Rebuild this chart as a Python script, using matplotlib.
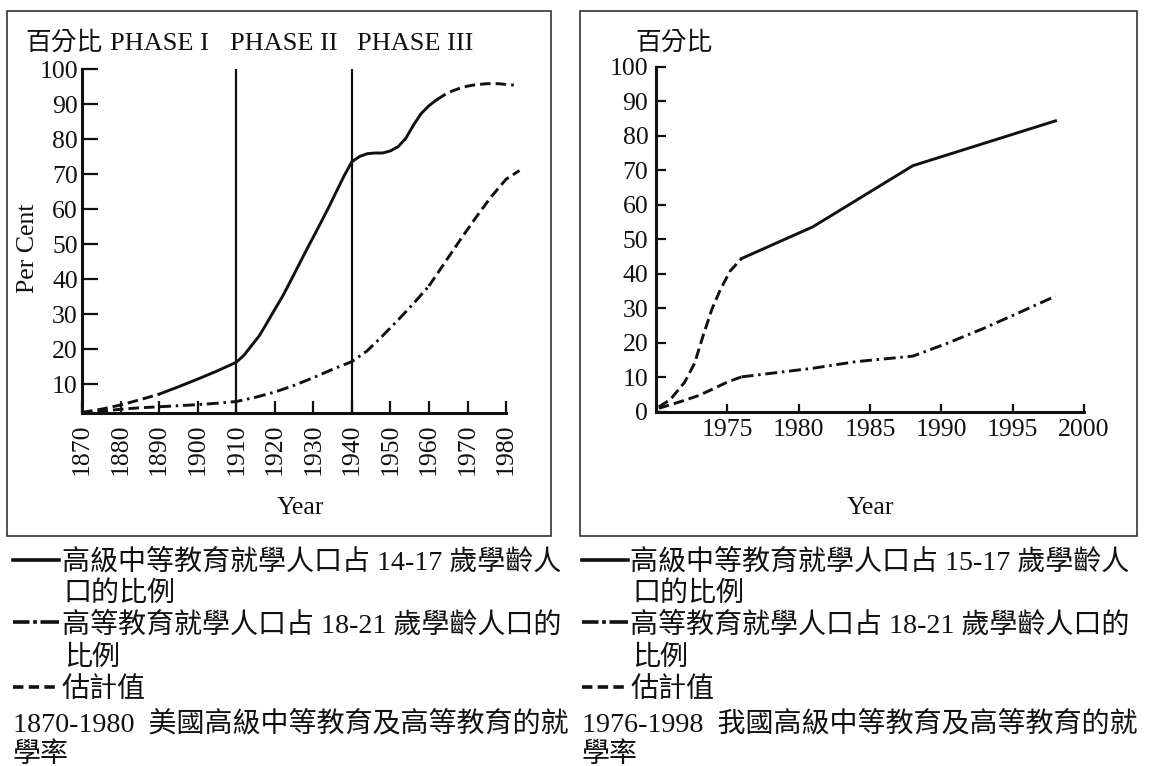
import matplotlib
matplotlib.use("Agg")
import matplotlib.pyplot as plt
from matplotlib.patches import Rectangle
from matplotlib.lines import Line2D

plt.rcParams['lines.scale_dashes'] = False

SERIF = 'Liberation Serif'
MIX = ['Liberation Serif', 'Noto Sans CJK TC']
CJK = ['Noto Sans CJK TC', 'DejaVu Sans']

# ---------------- data: USA 1870-1980 ----------------
us_hs_est1_x = [1870, 1875, 1880, 1885, 1890]
us_hs_est1_y = [1.9, 2.8, 4.0, 5.5, 7.1]
us_hs_x = [1890, 1895, 1900, 1905, 1910, 1912, 1914, 1916, 1918, 1920, 1922, 1924, 1926,
           1928, 1930, 1932, 1934, 1936, 1938, 1940, 1942, 1944, 1946, 1948, 1950, 1952,
           1954, 1956, 1958, 1960, 1962]
us_hs_y = [7.1, 9.2, 11.4, 13.7, 16.2, 18.2, 21.0, 23.8, 27.5, 31.3, 35.0, 39.2, 43.5,
           47.8, 52.0, 56.2, 60.5, 65.0, 69.5, 73.5, 75.0, 75.8, 76.0, 76.0, 76.6, 77.8,
           80.2, 84.0, 87.3, 89.5, 91.2]
us_hs_est2_x = [1962, 1964, 1966, 1968, 1970, 1972, 1975, 1978, 1982]
us_hs_est2_y = [91.2, 92.6, 93.7, 94.5, 95.1, 95.5, 95.8, 95.8, 95.4]

us_he_est1_x = [1870, 1875, 1880, 1885, 1890]
us_he_est1_y = [1.7, 2.2, 2.8, 3.2, 3.5]
us_he_x = [1890, 1895, 1900, 1905, 1910, 1915, 1920, 1925, 1930, 1935, 1940, 1944, 1948,
           1952, 1956, 1960]
us_he_y = [3.5, 3.8, 4.1, 4.5, 5.0, 6.2, 7.7, 9.6, 11.8, 14.2, 16.4, 19.5, 23.8,
           28.3, 33.0, 38.0]
us_he_est2_x = [1960, 1964, 1968, 1972, 1976, 1980, 1983.5]
us_he_est2_y = [38.0, 44.5, 51.0, 57.3, 63.3, 68.5, 71.0]

phase_years = [1910, 1940]
left_xticks = list(range(1870, 1981, 10))
left_yticks = list(range(10, 101, 10))

# ---------------- data: Taiwan 1970-2000 ----------------
tw_hs_est_x = [1970.2, 1971, 1972, 1972.7, 1973.3, 1973.9, 1974.5, 1975.2, 1976]
tw_hs_est_y = [1.4, 3.5, 8.5, 14.0, 22.0, 29.5, 35.3, 40.8, 44.4]
tw_hs_x = [1976, 1981, 1988, 1998]
tw_hs_y = [44.4, 53.6, 71.3, 84.3]

tw_he_est_x = [1970.2, 1971, 1972, 1973, 1974, 1975, 1976]
tw_he_est_y = [1.0, 2.0, 3.3, 4.7, 6.6, 8.6, 10.1]
tw_he_x = [1976, 1978, 1981, 1984, 1988, 1990.4, 1993, 1995.6, 1998]
tw_he_y = [10.1, 11.1, 12.6, 14.5, 16.1, 19.8, 24.2, 29.0, 33.5]

right_xticks = [1975, 1980, 1985, 1990, 1995, 2000]
right_yticks = list(range(0, 101, 10))

W, H = 1152, 766
fig = plt.figure(figsize=(W / 100, H / 100), dpi=100)

def fx(px):
    return px / W

def fy(py):
    return 1 - py / H

DASH = (0, (7.6, 3.6))
DASHDOT = (0, (8.6, 3.4, 1.8, 3.4))
LW = 2.1
COL = '#111111'
LEG_FS = 20.2

def style_axes(ax, ylen, xlen, ypad, xpad):
    for s in ['top', 'right']:
        ax.spines[s].set_visible(False)
    for s in ['left', 'bottom']:
        ax.spines[s].set_linewidth(2.2)
        ax.spines[s].set_color(COL)
    ax.tick_params(axis='y', direction='in', length=ylen, width=1.6, pad=ypad,
                   labelsize=18.5, colors=COL)
    ax.tick_params(axis='x', direction='in', length=xlen, width=1.6, pad=xpad,
                   labelsize=18.5, colors=COL)
    for lab in ax.get_xticklabels() + ax.get_yticklabels():
        lab.set_fontfamily(SERIF)

# ---------- left axes ----------
ybot = 1.86
axL = fig.add_axes([fx(82), fy(412.5), fx(115 * 3.855), (412.5 - 69) / H])
axL.set_xlim(1870, 1985)
axL.set_ylim(ybot, 100)
axL.plot(us_hs_est1_x, us_hs_est1_y, color=COL, lw=LW, linestyle=DASH)
axL.plot(us_hs_x, us_hs_y, color=COL, lw=LW)
axL.plot(us_hs_est2_x, us_hs_est2_y, color=COL, lw=LW, linestyle=DASH)
axL.plot(us_he_est1_x, us_he_est1_y, color=COL, lw=LW, linestyle=DASH)
axL.plot(us_he_x, us_he_y, color=COL, lw=LW, linestyle=DASHDOT)
axL.plot(us_he_est2_x, us_he_est2_y, color=COL, lw=LW, linestyle=DASH)
axL.vlines(phase_years, ybot, 100, color=COL, lw=1.6)
axL.set_xticks(left_xticks)
axL.set_xticklabels([str(v) for v in left_xticks], rotation=90)
axL.set_yticks(left_yticks)
axL.set_yticklabels([str(v) for v in left_yticks])
axL.spines['bottom'].set_bounds(1870, 1980)
style_axes(axL, 11.5, 8.6, 3.0, 8.0)

# ---------- right axes ----------
axR = fig.add_axes([fx(656), fy(411.7), fx(428), (411.7 - 66.7) / H])
axR.set_xlim(1970, 2000)
axR.set_ylim(0, 100)
axR.plot(tw_hs_est_x, tw_hs_est_y, color=COL, lw=LW, linestyle=DASH)
axR.plot(tw_hs_x, tw_hs_y, color=COL, lw=LW)
axR.plot(tw_he_est_x, tw_he_est_y, color=COL, lw=LW, linestyle=DASH)
axR.plot(tw_he_x, tw_he_y, color=COL, lw=LW, linestyle=DASHDOT)
axR.set_xticks(right_xticks)
axR.set_xticklabels([str(v) for v in right_xticks])
axR.set_yticks(right_yticks)
axR.set_yticklabels([str(v) for v in right_yticks])
style_axes(axR, 7.2, 5.8, 5.5, 5.0)

# ---------- frames ----------
for (x0, x1) in [(7, 551), (580, 1137)]:
    fig.patches.append(Rectangle((fx(x0), fy(536)), fx(x1 - x0), (536 - 10.7) / H,
                                 transform=fig.transFigure, fill=False,
                                 lw=1.2, edgecolor='#333333'))

# ---------- in-frame texts ----------
fig.text(fx(25), fy(49.5), '百分比', family=CJK, fontsize=18.5, va='baseline', color=COL)
fig.text(fx(110), fy(49.5), 'PHASE I', family=SERIF, fontsize=19, va='baseline', color=COL)
fig.text(fx(230), fy(49.5), 'PHASE II', family=SERIF, fontsize=19, va='baseline', color=COL)
fig.text(fx(357), fy(49.5), 'PHASE III', family=SERIF, fontsize=19, va='baseline', color=COL)
fig.text(fx(635), fy(49.5), '百分比', family=CJK, fontsize=18.5, va='baseline', color=COL)
fig.text(fx(27.6), fy(248), 'Per Cent', family=SERIF, fontsize=18.5, rotation=90,
         ha='center', va='center', color=COL)
fig.text(fx(300), fy(508), 'Year', family=SERIF, fontsize=18.5, ha='center', va='center', color=COL)
fig.text(fx(870), fy(508), 'Year', family=SERIF, fontsize=18.5, ha='center', va='center', color=COL)

# ---------- legends ----------
def legend_block(x0, lines_txt, caption):
    xs0, xs1 = x0, x0 + 46
    tx = x0 + 49
    fig.add_artist(Line2D([fx(xs0), fx(xs1)], [fy(560), fy(560)], lw=2.6, color=COL))
    fig.add_artist(Line2D([fx(xs0), fx(xs1)], [fy(622), fy(622)], lw=2.6, color=COL,
                          linestyle=(0, (11.9, 2.6, 2.7, 2.6, 14))))
    fig.add_artist(Line2D([fx(xs0), fx(xs1)], [fy(687), fy(687)], lw=2.6, color=COL,
                          linestyle=(0, (7.5, 3.8))))
    baselines = [570, 601, 633, 665, 697]
    for b, t in zip(baselines, lines_txt):
        fig.text(fx(tx + (2 if t in ('口的比例', '比例') else 0)), fy(b), t, family=MIX,
                 fontsize=LEG_FS, va='baseline', color=COL)
    fig.text(fx(x0), fy(731), caption[0], family=MIX, fontsize=LEG_FS,
             va='baseline', color=COL)
    fig.text(fx(x0), fy(762), caption[1], family=MIX, fontsize=LEG_FS,
             va='baseline', color=COL)

legend_block(12.9,
             ['高級中等教育就學人口占 14-17 歲學齡人', '口的比例',
              '高等教育就學人口占 18-21 歲學齡人口的', '比例', '估計值'],
             ['1870-1980  美國高級中等教育及高等教育的就', '學率'])
legend_block(581.5,
             ['高級中等教育就學人口占 15-17 歲學齡人', '口的比例',
              '高等教育就學人口占 18-21 歲學齡人口的', '比例', '估計值'],
             ['1976-1998  我國高級中等教育及高等教育的就', '學率'])

fig.savefig('out.png', dpi=100)
